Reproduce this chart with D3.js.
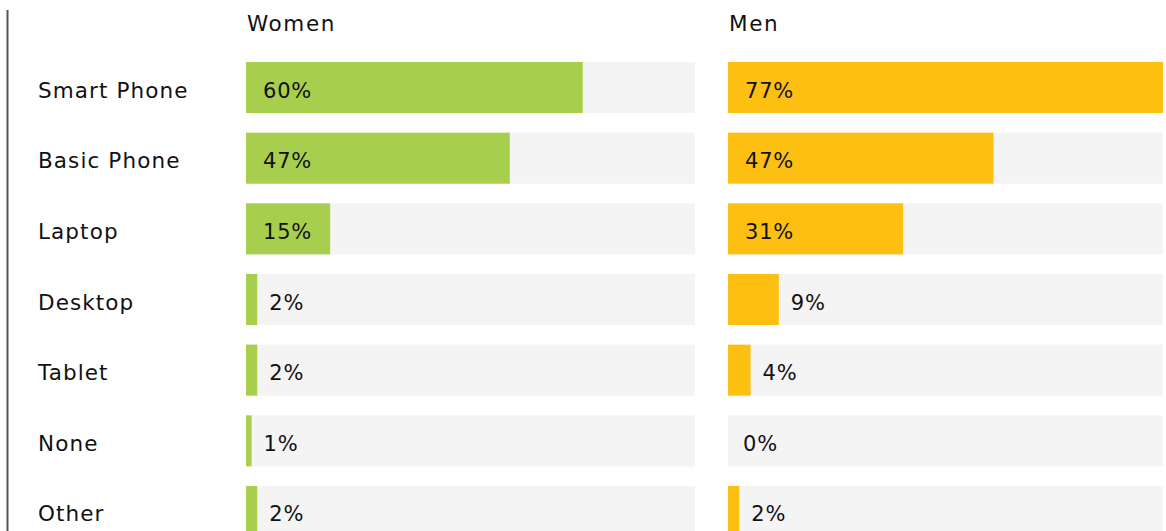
<!DOCTYPE html>
<html>
<head>
<meta charset="utf-8">
<script src="https://cdn.jsdelivr.net/npm/d3@7"></script>
<style>
  html, body { margin: 0; padding: 0; background: #fff; }
  svg text { font-family: "DejaVu Sans", sans-serif; fill: #111; }
</style>
</head>
<body>
<svg id="chart" width="1166" height="531"></svg>
<script>
const categories = ["Smart Phone", "Basic Phone", "Laptop", "Desktop", "Tablet", "None", "Other"];
const women = [60, 47, 15, 2, 2, 1, 2];
const men = [77, 47, 31, 9, 4, 0, 2];
const seriesNames = ["Women", "Men"];

const svg = d3.select("#chart");

// left divider line
svg.append("line")
  .attr("x1", 7.5).attr("x2", 7.5)
  .attr("y1", 10).attr("y2", 531)
  .attr("stroke", "#555").attr("stroke-width", 2);

const y = d3.scaleBand()
  .domain(categories)
  .range([62, 537])
  .paddingInner(0.278)
  .paddingOuter(0);

const panels = [
  { name: seriesNames[0], values: women, color: "#a7cf4d",
    x: d3.scaleLinear().domain([0, 80]).range([246, 695]) },
  { name: seriesNames[1], values: men, color: "#fdbf11",
    x: d3.scaleLinear().domain([0, 77]).range([728, 1163]) }
];

// category labels
svg.append("g").selectAll("text")
  .data(categories)
  .join("text")
  .attr("x", 38)
  .attr("y", d => y(d) + y.bandwidth() / 2 + 10)
  .attr("font-size", 21.5)
  .attr("letter-spacing", 1.1)
  .text(d => d);

panels.forEach(p => {
  const [x0, x1] = p.x.range();
  const g = svg.append("g");
  g.append("text")
    .attr("x", x0 + 1)
    .attr("y", 31)
    .attr("font-size", 21.5)
    .attr("letter-spacing", 1.6)
    .text(p.name);

  const rows = g.selectAll("g.row")
    .data(categories.map((c, i) => ({ c, v: p.values[i] })))
    .join("g").attr("class", "row");

  rows.append("rect")
    .attr("x", x0)
    .attr("y", d => y(d.c))
    .attr("width", x1 - x0)
    .attr("height", y.bandwidth())
    .attr("fill", "#f4f4f4");

  rows.append("rect")
    .attr("x", x0)
    .attr("y", d => y(d.c))
    .attr("width", d => p.x(d.v) - x0)
    .attr("height", y.bandwidth())
    .attr("fill", p.color);

  rows.append("text")
    .attr("x", d => {
      const end = p.x(d.v);
      if (end - x0 > 60) return x0 + 17;
      return Math.max(x0 + 15, end + 12);
    })
    .attr("y", d => y(d.c) + y.bandwidth() / 2 + 10)
    .attr("font-size", 21)
    .attr("letter-spacing", 0.8)
    .text(d => d.v + "%");
});
</script>
</body>
</html>
